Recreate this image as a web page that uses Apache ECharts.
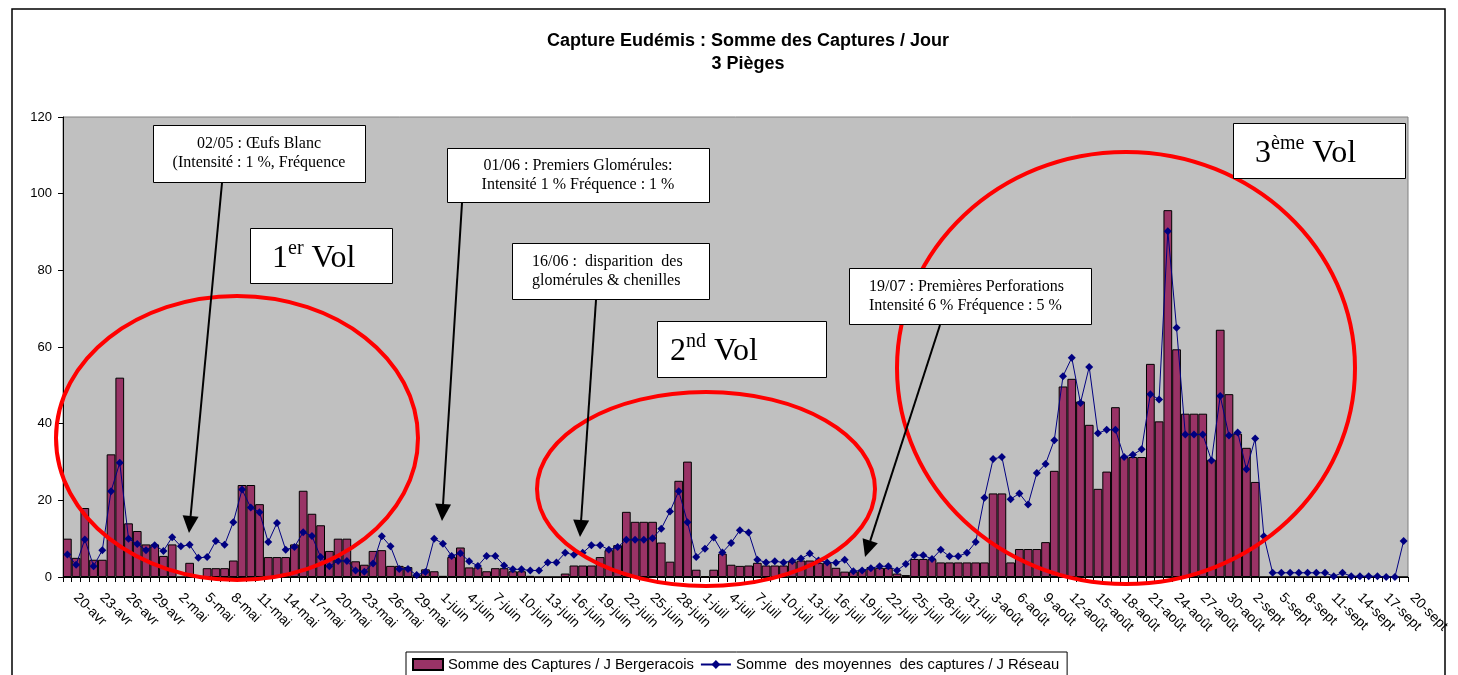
<!DOCTYPE html>
<html><head><meta charset="utf-8">
<script src="https://cdn.jsdelivr.net/npm/echarts@6/dist/echarts.min.js"></script>
<style>html,body{margin:0;padding:0;background:#fff}#c{width:1458px;height:675px}</style>
</head><body><div id="c"></div>
<script>
// ---- categories (days 20-avr .. 20-sept) ----
const monthSpans = [['avr',20,30],['mai',1,31],['juin',1,30],['juil',1,31],['août',1,31],['sept',1,20]];
const categories = [];
monthSpans.forEach(function(s){ for (let d = s[1]; d <= s[2]; d++) categories.push(d + '-' + s[0]); });

// ---- series values ----
const bergeracois = [
 10,5,18,4.5,4.5,32,52,14,12,8.5,8.5,5.5,8.5,0,3.7,0,2.3,2.3,2.3,4.3,
 24,24,19,5.2,5.2,5.2,8.5,22.5,16.5,13.5,6.8,10,10,4.1,3.2,6.8,7,2.9,2.9,2.6,
 0.5,2,1.5,0.3,5.2,7.7,2.5,2.5,1.5,2.3,2.3,1.5,1.5,0.3,0,0,0,0.9,3,3,
 3,5.2,7,8.3,17,14.4,14.4,14.4,9,4,25.1,30.1,1.9,0.2,1.9,6.1,3.2,2.9,3,3.7,
 3,3,3,4,4.3,4.3,3.7,3.7,2.4,1.4,1.4,1.9,2.6,2.4,2.4,0.9,0.5,4.7,4.7,4.7,
 3.8,3.8,3.8,3.8,3.8,3.8,21.8,21.8,3.8,7.3,7.3,7.3,9.1,27.7,49.7,51.7,45.8,39.7,23,27.5,
 44.3,31.3,31.3,31.3,55.6,40.6,95.7,59.4,42.6,42.6,42.6,30.6,64.5,47.7,37.4,33.7,24.8,0,0,0,
 0,0,0,0,0,0,0,0,0,0,0,0,0,0
];
const reseau = [
 5.9,3.2,9.8,2.8,7,22.4,29.8,10,8.6,7,8.3,6.8,10.4,8,8.4,5,5.2,9.4,8.4,14.3,
 22.8,18.1,16.9,9.1,14.1,7.1,7.8,11.7,10.7,5.2,2.8,4.2,4.2,1.7,1.4,3.5,10.6,8,2.1,2.1,
 0.5,1.3,10,8.7,5.5,6.2,4.1,2.9,5.5,5.5,3,2,2,1.7,1.7,3.8,3.8,6.3,5.8,6.3,
 8.3,8.3,7.1,7.8,9.7,9.7,9.7,10.1,12.6,17.1,22.4,14.3,5.2,7.4,10.3,6.4,8.9,12.2,11.6,4.5,
 3.8,4.1,3.8,4.2,4.8,6.1,4.3,3.8,3.7,4.5,1.5,1.7,2.3,2.8,2.8,1.7,3.4,5.7,5.7,4.7,
 7.1,5.4,5.4,6.3,9.1,20.7,30.8,31.3,20.3,21.8,18.9,27.1,29.5,35.7,52.4,57.2,45.4,54.8,37.5,38.4,
 38.4,31.3,31.9,33.3,47.7,46.3,90.2,65,37.2,37.2,37.2,30.4,47.2,36.9,37.7,28.1,36.1,10.6,1.1,1.1,
 1.1,1.1,1.1,1.1,1.1,0.2,1.1,0.2,0.2,0.2,0.2,0,0,9.4
];
const seriesNames = ['Somme des Captures / J Bergeracois', 'Somme  des moyennes  des captures / J Réseau'];
const yTicks = { min: 0, max: 120, interval: 20 };
const titleLines = ['Capture Eudémis : Somme des Captures / Jour', '3 Pièges'];

// ---- annotations (decoration) ----
const notes = [
  { box: [153,125,212,57], lines: ['02/05 : Œufs Blanc', '(Intensité : 1 %, Fréquence'], align: 'center', arrow: [222,183,189,533] },
  { box: [447,148,262,54], lines: ['01/06 : Premiers Glomérules:', 'Intensité 1 % Fréquence : 1 %'], align: 'center', arrow: [462,203,442,521] },
  { box: [512,243,197,56], lines: ['16/06 :  disparition  des', 'glomérules & chenilles'], align: 'left', arrow: [596,300,580,537] },
  { box: [849,268,242,56], lines: ['19/07 : Premières Perforations', 'Intensité 6 % Fréquence : 5 %'], align: 'left', arrow: [940,325,865,557] }
];
const vols = [
  { box: [250,228,142,55], num: '1', sup: 'er', tx: 272 },
  { box: [657,321,169,56], num: '2', sup: 'nd', tx: 670 },
  { box: [1233,123,172,55], num: '3', sup: 'ème', tx: 1255 }
];
const ellipses = [ [237,438,181,142], [706,489,169,97], [1126,368,229,216] ];

const graphics = [];
graphics.push({ type:'rect', z:100, shape:{x:12,y:9,width:1433,height:720}, style:{fill:'none',stroke:'#000',lineWidth:1.5}, silent:true });
ellipses.forEach(function(e){
  graphics.push({ type:'ellipse', z:110, shape:{cx:e[0],cy:e[1],rx:e[2],ry:e[3]}, style:{fill:'none',stroke:'#FF0000',lineWidth:4}, silent:true });
});
notes.forEach(function(n){
  const b = n.box;
  graphics.push({ type:'rect', z:120, shape:{x:b[0]+0.5,y:b[1]+0.5,width:b[2],height:b[3]}, style:{fill:'#fff',stroke:'#000',lineWidth:1}, silent:true });
  graphics.push({ type:'text', z:121, x: n.align==='center' ? b[0]+b[2]/2 : b[0]+20, y: b[1]+b[3]/2,
    style:{ text:n.lines.join('\n'), fontFamily:'"Liberation Serif", serif', fontSize:16, lineHeight:19, fill:'#000',
      align: n.align, verticalAlign:'middle' }, silent:true });
  const a = n.arrow;
  const dx = a[2]-a[0], dy = a[3]-a[1], L = Math.sqrt(dx*dx+dy*dy), ux = dx/L, uy = dy/L;
  const hl = 17, hw = 8;
  const bx = a[2]-ux*hl, by = a[3]-uy*hl;
  graphics.push({ type:'line', z:115, shape:{x1:a[0],y1:a[1],x2:bx,y2:by}, style:{stroke:'#000',lineWidth:2}, silent:true });
  graphics.push({ type:'polygon', z:115, shape:{points:[[a[2],a[3]],[bx-uy*hw,by+ux*hw],[bx+uy*hw,by-ux*hw]]}, style:{fill:'#000'}, silent:true });
});
vols.forEach(function(v){
  const b = v.box;
  graphics.push({ type:'rect', z:120, shape:{x:b[0]+0.5,y:b[1]+0.5,width:b[2],height:b[3]}, style:{fill:'#fff',stroke:'#000',lineWidth:1}, silent:true });
  graphics.push({ type:'text', z:121, x:v.tx, y:b[1]+b[3]/2+1,
    style:{ text:'{a|'+v.num+'}{s|'+v.sup+'}{a| Vol}', align:'left', verticalAlign:'middle',
      rich:{ a:{fontFamily:'"Liberation Serif", serif', fontSize:32, lineHeight:36, fill:'#000', verticalAlign:'bottom'},
             s:{fontFamily:'"Liberation Serif", serif', fontSize:20, lineHeight:20, fill:'#000', verticalAlign:'top'} } }, silent:true });
});

const chart = echarts.init(document.getElementById('c'), null, { renderer: 'canvas' });
chart.setOption({
  animation: false,
  backgroundColor: '#fff',
  textStyle: { fontFamily: '"Liberation Sans", Arial, sans-serif' },
  title: {
    text: titleLines.join('\n'), left: 743, top: 25, textAlign: 'center',
    textStyle: { fontFamily:'"Liberation Sans", Arial, sans-serif', fontSize: 18, fontWeight: 'bold', color: '#000', lineHeight: 23 }
  },
  legend: {
    left: 406, top: 652, padding: [5, 8, 5, 6], itemGap: 6, itemWidth: 30, itemHeight: 11,
    borderColor: '#000', borderWidth: 1, backgroundColor: '#fff',
    textStyle: { fontFamily:'"Liberation Sans", Arial, sans-serif', fontSize: 14.8, color: '#000' },
    data: [ { name: seriesNames[0], icon: 'rect' }, { name: seriesNames[1] } ]
  },
  grid: { left: 63, right: 50, top: 117, bottom: 98, show: true, backgroundColor: '#C0C0C0', borderColor: '#808080', borderWidth: 1, containLabel: false },
  xAxis: {
    type: 'category', data: categories, boundaryGap: true,
    axisLine: { lineStyle: { color: '#000', width: 1 } },
    axisTick: { show: true, interval: 0, length: 5, lineStyle: { color: '#000' } },
    axisLabel: { interval: 2, rotate: -45, margin: 10, padding: [0, 0, 0, 12], fontSize: 14, color: '#000', fontFamily:'"Liberation Sans", Arial, sans-serif' },
    splitLine: { show: false }
  },
  yAxis: {
    type: 'value', min: yTicks.min, max: yTicks.max, interval: yTicks.interval,
    axisLine: { show: true, lineStyle: { color: '#000', width: 1 } },
    axisTick: { show: true, length: 5, lineStyle: { color: '#000' } },
    axisLabel: { fontSize: 13, color: '#000', margin: 11, fontFamily:'"Liberation Sans", Arial, sans-serif' },
    splitLine: { show: false }
  },
  series: [
    { name: seriesNames[0], type: 'bar', data: bergeracois, barCategoryGap: '0%',
      itemStyle: { color: '#993366', borderColor: '#000', borderWidth: 1 } },
    { name: seriesNames[1], type: 'line', data: reseau, symbol: 'diamond', symbolSize: 8, showSymbol: true, showAllSymbol: true,
      lineStyle: { color: '#000080', width: 1 }, itemStyle: { color: '#000080' } }
  ],
  graphic: graphics
});
</script></body></html>
